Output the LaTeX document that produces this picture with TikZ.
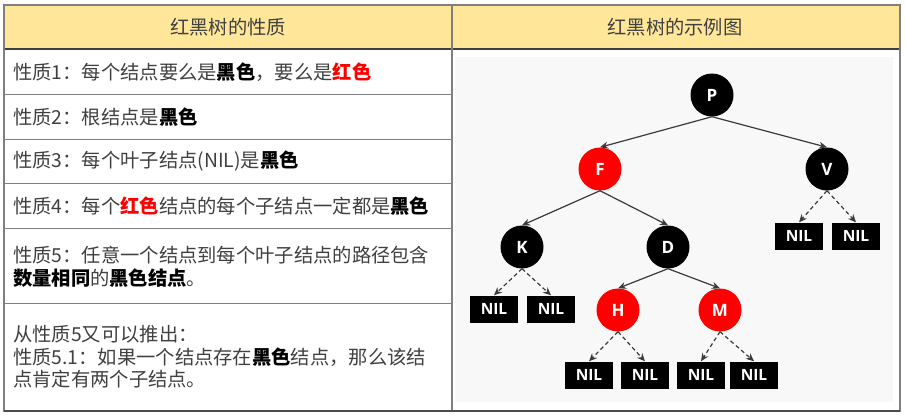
\documentclass[tikz,border=0pt]{standalone}
\usepackage{fontspec}
\usetikzlibrary{arrows.meta}
\newfontfamily\cjk{Noto Sans CJK SC}
\newfontfamily\nodefont{Open Sans}
\definecolor{hdr}{HTML}{FFE699}
\definecolor{txt}{HTML}{404040}
\definecolor{rb}{HTML}{FF0000}
\definecolor{edge}{HTML}{3A3A3A}
\definecolor{bgc}{HTML}{F8F8F8}
\definecolor{rule}{HTML}{7F7F7F}
\newcommand{\blk}[1]{\textbf{\color{black}#1}}
\newcommand{\red}[1]{\textbf{\color{rb}#1}}
\begin{document}
\begin{tikzpicture}[x=1pt,y=-1pt,
  cell/.style={anchor=west,inner sep=0pt,font=\cjk\fontsize{19.3}{22.5}\selectfont,text=txt,align=left},
  head/.style={inner sep=0pt,font=\cjk\fontsize{19.3}{22}\selectfont,text=txt},
  rbnode/.style={circle,minimum size=43pt,inner sep=0pt,text=white,font=\nodefont\bfseries\fontsize{17}{17}\selectfont},
  blacknode/.style={rbnode,fill=black},
  rednode/.style={rbnode,fill=rb},
  nilbox/.style={rectangle,fill=black,minimum width=48pt,minimum height=27pt,inner sep=0pt,text=white,font=\nodefont\bfseries\fontsize{15.5}{15.5}\selectfont},
  tedge/.style={draw=edge,line width=1.2pt,-{Stealth[length=8pt,width=7pt]}},
  dedge/.style={tedge,dashed,dash pattern=on 4pt off 3pt}
]
\useasboundingbox (0,0) rectangle (905,416);
\fill[white] (0,0) rectangle (905,416);
% header
\fill[hdr] (4,5) rectangle (900,49);
\fill[bgc] (455,57) rectangle (893,402);
% row rules
\foreach \yy in {94,139,183,228,303}{\draw[rule,line width=1pt] (4,\yy) -- (452,\yy);}
\draw[black!75,line width=1.3pt] (4,49) -- (900,49);
\draw[rule,line width=2pt] (4,5) rectangle (900,411);
\draw[rule,line width=2pt] (452,5) -- (452,411);
\draw[black!70,line width=1.5pt] (4,411) -- (900,411);
% header text
\node[head] (h1) at (228,27) {红黑树的性质};
\node[head] (h2) at (675,27) {红黑树的示例图};
% rows
\node[cell] (r1) at (13,72) {性质1：每个结点要么是\blk{黑色}，要么是\red{红色}};
\node[cell] (r2) at (13,117) {性质2：根结点是\blk{黑色}};
\node[cell] (r3) at (13,161) {性质3：每个叶子结点(NIL)是\blk{黑色}};
\node[cell] (r4) at (13,206) {性质4：每个\red{红色}结点的每个子结点一定都是\blk{黑色}};
\node[cell] (r5) at (13,267) {性质5：任意一个结点到每个叶子结点的路径包含\\\blk{数量相同}的\blk{黑色结点}。};
\node[cell] (r6) at (13,357) {从性质5又可以推出：\\性质5.1：如果一个结点存在\blk{黑色}结点，那么该结\\点肯定有两个子结点。};
% tree
\node[blacknode] (P) at (712,95) {P};
\node[rednode] (F) at (600,169) {F};
\node[blacknode] (V) at (827,169) {V};
\node[blacknode] (K) at (522,247) {K};
\node[blacknode] (D) at (668,247) {D};
\node[rednode] (H) at (618,310) {H};
\node[rednode] (M) at (720,310) {M};
\node[nilbox] (v1) at (799,236) {NIL};
\node[nilbox] (v2) at (856,236) {NIL};
\node[nilbox] (k1) at (494,309) {NIL};
\node[nilbox] (k2) at (551,309) {NIL};
\node[nilbox] (h1n) at (589,375) {NIL};
\node[nilbox] (h2n) at (645,375) {NIL};
\node[nilbox] (m1) at (701,375) {NIL};
\node[nilbox] (m2) at (754,375) {NIL};
\draw[tedge] (P.south) -- (F.north);
\draw[tedge] (P.south) -- (V.north);
\draw[tedge] (F.south) -- (K.north);
\draw[tedge] (F.south) -- (D.north);
\draw[tedge] (D.south) -- (H.north);
\draw[tedge] (D.south) -- (M.north);
\draw[dedge] (V.south) -- (v1.north);
\draw[dedge] (V.south) -- (v2.north);
\draw[dedge] (K.south) -- (k1.north);
\draw[dedge] (K.south) -- (k2.north);
\draw[dedge] (H.south) -- (h1n.north);
\draw[dedge] (H.south) -- (h2n.north);
\draw[dedge] (M.south) -- (m1.north);
\draw[dedge] (M.south) -- (m2.north);
\end{tikzpicture}
\end{document}
